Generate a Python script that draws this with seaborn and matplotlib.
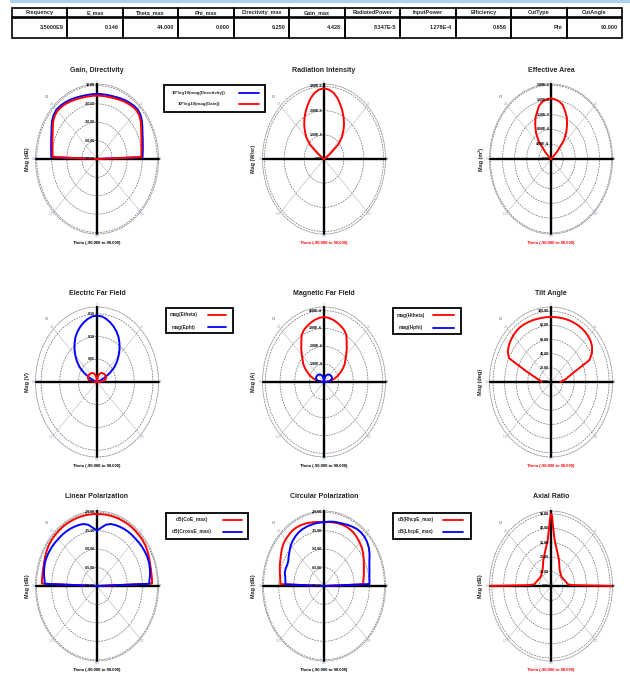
import numpy as np
import matplotlib
matplotlib.use("Agg")
import matplotlib.pyplot as plt
import seaborn as sns
from matplotlib.patches import Rectangle
from matplotlib.lines import Line2D

sns.set_theme(style="white")
plt.rcParams['font.family'] = ['Liberation Sans', 'DejaVu Sans']

W, H = 630, 676
fig = plt.figure(figsize=(W / 100, H / 100), dpi=100)
fig.patch.set_facecolor('white')

# ---------------- summary table ----------------
table_headers = ["Frequency", "E_max", "Theta_max", "Phi_max", "Directivity_max", "Gain_max",
                 "RadiatedPower", "InputPower", "Efficiency", "CutType", "CutAngle"]
table_values = ["3.5000E9", "0.146", "44.000", "0.000", "6.250", "4.428",
                "8.347E-5", "1.278E-4", "0.656", "Phi", "90.000"]

# ---------------- pattern data (phi = 90 cut) ----------------
theta_deg = [-90, -88, -85, -80, -75, -70, -65, -60, -55, -50, -45, -40, -35, -30, -25, -20, -15, -10, -5,
             0, 5, 10, 15, 20, 25, 30, 35, 40, 45, 50, 55, 60, 65, 70, 75, 80, 85, 88, 90]

directivity_db = [-70.0, -9.4, -9.0, -8.2, -7.0, -5.3, -3.3, -0.4, 2.8, 5.0, 6.0, 5.6, 4.8, 3.8, 2.8, 1.9,
                  1.2, 0.9, 0.8, 0.75, 0.8, 0.95, 1.2, 1.9, 2.9, 3.9, 4.9, 5.8, 6.25, 5.2, 2.7, -0.5,
                  -3.4, -5.4, -7.1, -8.3, -9.1, -9.5, -70.0]
gain_db = [-70.0, -11.2, -10.8, -10.0, -8.8, -7.1, -5.1, -2.2, 1.0, 3.2, 4.2, 3.8, 3.0, 2.0, 1.0, 0.1,
           -0.6, -0.9, -1.0, -1.07, -1.0, -0.87, -0.6, 0.1, 1.1, 2.1, 3.1, 4.0, 4.43, 3.4, 0.9, -2.3,
           -5.2, -7.2, -8.9, -10.1, -10.9, -11.3, -70.0]

radiation_intensity = [0.0, 0.0, 0.0, 0.01e-5, 0.01e-5, 0.02e-5, 0.03e-5, 0.09e-5, 0.36e-5, 0.92e-5,
                       1.26e-5, 1.50e-5, 1.74e-5, 1.97e-5, 2.18e-5, 2.39e-5, 2.60e-5, 2.77e-5, 2.88e-5,
                       2.92e-5, 2.88e-5, 2.78e-5, 2.61e-5, 2.40e-5, 2.19e-5, 1.98e-5, 1.76e-5, 1.52e-5,
                       1.27e-5, 0.94e-5, 0.38e-5, 0.10e-5, 0.03e-5, 0.02e-5, 0.01e-5, 0.01e-5, 0.0, 0.0, 0.0]

effective_area = [0.0, 0.0, 0.0, 0.0, 0.0, 0.0, 0.02e-4, 0.05e-4, 0.15e-4, 0.6e-4, 2.8e-4, 6.4e-4,
                  8.6e-4, 10.4e-4, 12.2e-4, 13.5e-4, 15.0e-4, 15.8e-4, 16.2e-4, 16.4e-4, 16.2e-4,
                  15.8e-4, 15.1e-4, 13.7e-4, 12.4e-4, 10.6e-4, 8.8e-4, 6.6e-4, 3.0e-4, 0.7e-4,
                  0.15e-4, 0.05e-4, 0.02e-4, 0.0, 0.0, 0.0, 0.0, 0.0, 0.0]

e_theta = [0.004, 0.008, 0.013, 0.020, 0.024, 0.026, 0.027, 0.027, 0.027, 0.026, 0.026, 0.025, 0.024,
           0.023, 0.021, 0.018, 0.015, 0.011, 0.006, 0.0, 0.006, 0.011, 0.015, 0.018, 0.021, 0.023,
           0.024, 0.025, 0.026, 0.026, 0.027, 0.027, 0.027, 0.026, 0.024, 0.020, 0.013, 0.008, 0.004]
e_phi = [0.0, 0.0005, 0.001, 0.002, 0.004, 0.009, 0.022, 0.040, 0.057, 0.070, 0.082, 0.094, 0.105,
         0.115, 0.123, 0.130, 0.136, 0.141, 0.145, 0.146, 0.145, 0.141, 0.136, 0.130, 0.123, 0.115,
         0.105, 0.094, 0.082, 0.070, 0.057, 0.040, 0.022, 0.009, 0.004, 0.002, 0.001, 0.0005, 0.0]

h_theta = [0.3e-5, 0.8e-5, 1.8e-5, 4.5e-5, 7.5e-5, 10.0e-5, 12.2e-5, 14.8e-5, 17.2e-5, 19.0e-5,
           21.4e-5, 24.2e-5, 27.0e-5, 30.5e-5, 32.3e-5, 33.4e-5, 34.5e-5, 35.4e-5, 36.1e-5, 36.4e-5,
           36.1e-5, 35.4e-5, 34.5e-5, 33.4e-5, 32.3e-5, 30.5e-5, 27.0e-5, 24.2e-5, 21.4e-5, 19.0e-5,
           17.2e-5, 14.8e-5, 12.2e-5, 10.0e-5, 7.5e-5, 4.5e-5, 1.8e-5, 0.8e-5, 0.3e-5]
h_phi = [0.8e-5, 1.6e-5, 2.8e-5, 4.4e-5, 5.3e-5, 5.8e-5, 6.0e-5, 6.0e-5, 5.9e-5, 5.8e-5, 5.6e-5,
         5.4e-5, 5.2e-5, 4.8e-5, 4.3e-5, 3.6e-5, 2.9e-5, 2.0e-5, 1.0e-5, 0.0, 1.0e-5, 2.0e-5, 2.9e-5,
         3.6e-5, 4.3e-5, 4.8e-5, 5.2e-5, 5.4e-5, 5.6e-5, 5.8e-5, 5.9e-5, 6.0e-5, 6.0e-5, 5.8e-5,
         5.3e-5, 4.4e-5, 2.8e-5, 1.6e-5, 0.8e-5]

tilt_angle = [16, 17, 18, 23, 31, 47, 80, 86, 89, 91, 92.5, 93.5, 94, 93.8, 93.3, 92.8, 92.3, 92, 92,
              92, 92, 92.2, 92.4, 92.6, 92.7, 92.7, 92.5, 92, 91, 89.5, 86.5, 81.5, 73, 44.5, 33, 26.5,
              21, 18, 16]

co_e_db = [-80.0, -25.4, -25.2, -25.1, -24.8, -24.2, -23.3, -22.4, -21.7, -21.4, -21.3, -21.2, -21.1,
           -21.1, -21.2, -21.2, -21.3, -21.3, -21.4, -21.4, -21.4, -21.3, -21.3, -21.2, -21.2, -21.1,
           -21.1, -21.2, -21.3, -21.4, -21.7, -22.4, -23.3, -24.2, -24.8, -25.1, -25.2, -25.4, -80.0]
cross_e_db = [-80.0, -28.1, -27.8, -26.6, -25.7, -25.0, -24.8, -24.9, -25.1, -25.4, -25.8, -25.9, -26.1,
              -26.4, -26.8, -27.2, -27.8, -29.4, -32.4, -35.0, -32.4, -29.4, -27.8, -27.2, -26.8, -26.4,
              -26.1, -25.9, -25.8, -25.4, -25.1, -24.9, -24.8, -25.0, -25.7, -26.6, -27.8, -28.1, -80.0]

rhcp_db = [-80.0, -36.7, -36.5, -35.8, -34.6, -33.3, -32.1, -30.6, -28.8, -27.2, -26.3, -25.7, -25.1,
           -25.1, -25.4, -26.0, -26.6, -27.2, -27.7, -28.1, -27.8, -27.5, -27.2, -27.0, -26.9, -27.2,
           -27.8, -28.8, -30.0, -31.2, -32.7, -34.6, -36.4, -37.9, -39.1, -40.0, -41.0, -41.0, -80.0]
lhcp_db = [-80.0, -41.6, -41.6, -41.0, -39.7, -39.4, -39.7, -39.1, -37.3, -35.5, -33.3, -31.8, -30.6,
           -29.7, -29.1, -28.8, -28.6, -28.4, -28.3, -28.1, -27.5, -26.9, -26.5, -26.0, -25.1, -24.2,
           -23.3, -23.0, -23.3, -24.2, -25.7, -27.8, -30.3, -32.1, -33.3, -34.3, -34.7, -34.9, -80.0]

ar_theta_deg = [-90, -88, -85, -80, -75, -70, -65, -60, -55, -50, -45, -40, -35, -30, -25, -20, -15, -10,
                -5, -2, -1, 0, 1, 2, 5, 10, 15, 20, 25, 30, 35, 40, 45, 50, 55, 60, 65, 70, 75, 80, 85,
                88, 90]
axial_ratio_db = [52, 18, 14, 13.2, 12.5, 11.8, 11.4, 11, 10.9, 11, 11.4, 12, 12.7, 14, 16, 19, 22, 26,
                  32, 41.6, 47, 50, 49, 43, 33, 26.5, 22.5, 19.5, 16.5, 14.3, 13, 12.2, 11.6, 11.2, 11,
                  11.1, 11.5, 12, 12.6, 13.4, 14.2, 18, 52]

RED, BLUE = '#ff0000', '#0000ff'


def fx(x):
    return x / W


def fy(y):
    return 1 - y / H


# ---------------- top band and table ----------------
fig.add_artist(Rectangle((fx(10), fy(3)), (W - 10) / W, 3 / H, transform=fig.transFigure,
                         fc='#a8d2f4', ec='none'))
tx0, tx1 = 12, 622
colw = (tx1 - tx0) / len(table_headers)
for i, (hd, val) in enumerate(zip(table_headers, table_values)):
    x = tx0 + i * colw
    fig.add_artist(Rectangle((fx(x), fy(17)), colw / W, 9 / H, transform=fig.transFigure,
                             fill=False, ec='black', lw=1.2))
    fig.add_artist(Rectangle((fx(x), fy(37.5)), colw / W, 19.5 / H, transform=fig.transFigure,
                             fill=False, ec='black', lw=1.2))
    fig.text(fx(x + colw / 2), fy(12.5), hd, ha='center', va='center', fontsize=4, weight='bold')
    fig.text(fx(x + colw - 4), fy(27.5), val, ha='right', va='center', fontsize=4, weight='bold')

# ---------------- polar panels ----------------
RX, RY = 61.5, 75
col_x = [97, 324, 551]
row_y = [159, 382, 586]
THETA_TEXT = "Theta (-90.000 to 90.000)"

panels = [
    dict(title="Gain, Directivity", ylabel="Mag (dB)", xcolor='black', rmin=-70, rmax=11.6,
         rings=[-70, -50, -30, -10, 10], ring_labels=["-70.00", "-50.00", "-30.00", "-10.00", "10.00"],
         theta=theta_deg, series=[(directivity_db, BLUE), (gain_db, RED)]),
    dict(title="Radiation Intensity", ylabel="Mag (W/sr)", xcolor=RED, rmin=0, rmax=3.1e-5,
         rings=[0, 1e-5, 2e-5, 3e-5], ring_labels=["0.00", "1.00E-5", "2.00E-5", "3.00E-5"],
         theta=theta_deg, series=[(radiation_intensity, RED)]),
    dict(title="Effective Area", ylabel="Mag (m²)", xcolor=RED, rmin=0, rmax=20.3e-4,
         rings=[0, 4e-4, 8e-4, 12e-4, 16e-4, 20e-4],
         ring_labels=["0.00", "4.00E-4", "8.00E-4", "1.20E-3", "1.60E-3", "2.00E-3"],
         theta=theta_deg, series=[(effective_area, RED)]),
    dict(title="Electric Far Field", ylabel="Mag (V)", xcolor='black', rmin=0, rmax=0.165,
         rings=[0, 0.05, 0.10, 0.15], ring_labels=["0.00", "0.05", "0.10", "0.15"],
         theta=theta_deg, series=[(e_phi, BLUE), (e_theta, RED)]),
    dict(title="Magnetic Far Field", ylabel="Mag (A)", xcolor='black', rmin=0, rmax=4.2e-4,
         rings=[0, 1e-4, 2e-4, 3e-4, 4e-4], ring_labels=["0.00", "1.00E-4", "2.00E-4", "3.00E-4", "4.00E-4"],
         theta=theta_deg, series=[(h_theta, RED), (h_phi, BLUE)]),
    dict(title="Tilt Angle", ylabel="Mag (deg)", xcolor=RED, rmin=0, rmax=106,
         rings=[0, 20, 40, 60, 80, 100], ring_labels=["0.00", "20.00", "40.00", "60.00", "80.00", "100.00"],
         theta=theta_deg, series=[(tilt_angle, RED)]),
    dict(title="Linear Polarization", ylabel="Mag (dB)", xcolor='black', rmin=-80, rmax=-19,
         rings=[-80, -65, -50, -35, -20], ring_labels=["-80.00", "-65.00", "-50.00", "-35.00", "-20.00"],
         theta=theta_deg, series=[(co_e_db, RED), (cross_e_db, BLUE)]),
    dict(title="Circular Polarization", ylabel="Mag (dB)", xcolor='black', rmin=-80, rmax=-19,
         rings=[-80, -65, -50, -35, -20], ring_labels=["-80.00", "-65.00", "-50.00", "-35.00", "-20.00"],
         theta=theta_deg, series=[(rhcp_db, RED), (lhcp_db, BLUE)]),
    dict(title="Axial Ratio", ylabel="Mag (dB)", xcolor=RED, rmin=0, rmax=52,
         rings=[0, 10, 20, 30, 40, 50], ring_labels=["0.00", "10.00", "20.00", "30.00", "40.00", "50.00"],
         theta=ar_theta_deg, series=[(axial_ratio_db, RED)]),
]

grid_angles = [0, 45, 90, 135, 180, 225, 270, 315]
grid_angle_labels = ["0", "45", "90", "135", "180", "-135", "-90", "-45"]

for k, p in enumerate(panels):
    cx, cy = col_x[k % 3], row_y[k // 3]
    ax = fig.add_axes([fx(cx - RX), fy(cy + RY), 2 * RX / W, 2 * RY / H], projection='polar')
    ax.set_aspect('auto')
    ax.set_facecolor('white')
    ax.set_theta_zero_location('N')
    ax.set_theta_direction(-1)
    th = np.deg2rad(p['theta'])
    for vals, color in p['series']:
        sns.lineplot(x=th, y=vals, ax=ax, color=color, linewidth=1.4, sort=False,
                     estimator=None, zorder=5)
    ax.set_ylim(p['rmin'], p['rmax'])
    ax.set_yticks(p['rings'])
    ax.set_yticklabels([])
    ax.set_xticks(np.deg2rad(grid_angles))
    ax.set_xticklabels([])
    ax.tick_params(pad=0, length=0)
    ax.xaxis.grid(True, color='#c4c4c4', lw=0.5, ls='-')
    ax.yaxis.grid(True, color='#6a6a6a', lw=0.5, ls=(0, (2.5, 1.5)))
    ax.spines['polar'].set(color='#9a9a9a', lw=0.6, ls=(0, (2.5, 1.5)))
    ax.set_xlabel('')
    ax.set_ylabel('')
    # heavy reference axes through the centre
    ax.plot([0, 1], [0.5, 0.5], transform=ax.transAxes, color='black', lw=1.7, zorder=3, clip_on=False)
    ax.plot([0.5, 0.5], [0, 1], transform=ax.transAxes, color='black', lw=1.7, zorder=3, clip_on=False)
    # radial tick labels along the vertical axis
    span = p['rmax'] - p['rmin']
    for v, s in zip(p['rings'], p['ring_labels']):
        ax.text(0.485, 0.5 + 0.5 * (v - p['rmin']) / span, s, transform=ax.transAxes,
                ha='right', va='center', fontsize=2.6, weight='bold', color='black', zorder=6)
    # angular labels on the rim
    for a, s in zip(grid_angles, grid_angle_labels):
        ar = np.deg2rad(a)
        ax.text(0.5 + 0.515 * np.sin(ar), 0.5 + 0.515 * np.cos(ar), s, transform=ax.transAxes,
                ha='center', va='center', fontsize=2.2, color='#8fa8c8', zorder=6)
    fig.text(fx(cx - 51), fy(cy - 63), "o", ha='center', va='center', fontsize=4, color='#707070')
    fig.text(fx(cx), fy(cy - RY - 14), p['title'], ha='center', va='center', fontsize=5, weight='bold')
    fig.text(fx(cx - 70), fy(cy), p['ylabel'], rotation=90, ha='center', va='center', fontsize=4,
             weight='bold')
    fig.text(fx(cx), fy(cy + RY + 9), THETA_TEXT, ha='center', va='center', fontsize=3,
             weight='bold', color=p['xcolor'])

# ---------------- legends ----------------
legends = [
    dict(box=(164, 85, 265, 112), line=(239, 259), text_x=199, ys=(93, 104), fs=3.2,
         entries=[("10*log10(mag(Directivity))", BLUE), ("10*log10(mag(Gain))", RED)]),
    dict(box=(166, 308, 233, 333), line=(208, 226), text_x=184, ys=(314.5, 327), fs=3.4,
         entries=[("mag(Etheta)", RED), ("mag(Ephi)", BLUE)]),
    dict(box=(393, 308, 461, 334), line=(433, 454), text_x=411, ys=(315, 328), fs=3.4,
         entries=[("mag(Htheta)", RED), ("mag(Hphi)", BLUE)]),
    dict(box=(166, 513, 248, 539), line=(223, 242), text_x=192, ys=(520, 532), fs=3.5,
         entries=[("dB(CoE_max)", RED), ("dB(CrossE_max)", BLUE)]),
    dict(box=(393, 513, 471, 539), line=(443, 463), text_x=416, ys=(520, 532), fs=3.3,
         entries=[("dB(RhcpE_max)", RED), ("dB(LhcpE_max)", BLUE)]),
]
for lg in legends:
    x0, y0, x1, y1 = lg['box']
    fig.add_artist(Rectangle((fx(x0), fy(y1)), (x1 - x0) / W, (y1 - y0) / H, transform=fig.transFigure,
                             fc='white', ec='black', lw=1.3, zorder=10))
    for (label, color), y in zip(lg['entries'], lg['ys']):
        fig.add_artist(Line2D([fx(lg['line'][0]), fx(lg['line'][1])], [fy(y), fy(y)], color=color,
                              lw=1.3, transform=fig.transFigure, zorder=11))
        fig.text(fx(lg['text_x']), fy(y), label, ha='center', va='center', fontsize=lg['fs'],
                 weight='bold', zorder=11)

fig.savefig("out.png", dpi=100, facecolor='white')
